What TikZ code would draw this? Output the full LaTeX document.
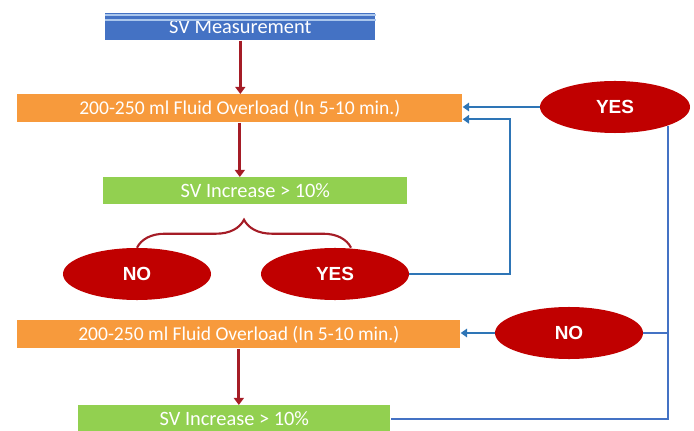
\documentclass[tikz,border=0pt]{standalone}
\usepackage{fontspec}
\setmainfont{Carlito}
\newfontfamily\ansfont{Liberation Sans}
\usetikzlibrary{arrows.meta,shapes.geometric,decorations.pathreplacing}

\definecolor{headblue}{RGB}{68,114,196}
\definecolor{stripeblue}{RGB}{170,198,236}
\definecolor{fluidorange}{RGB}{247,154,60}
\definecolor{checkgreen}{RGB}{146,208,80}
\definecolor{ansred}{RGB}{192,0,0}
\definecolor{darrowred}{RGB}{165,28,38}
\definecolor{barrowblue}{RGB}{46,117,182}
\definecolor{looplineblue}{RGB}{68,114,196}

\tikzset{
	box node/.style = {
		rectangle,
		inner sep = 0pt,
		anchor = north west,
		text = white,
		font = \fontsize{14.5}{17}\selectfont
	},
	head node/.style = {
		box node,
		fill = headblue,
		minimum width = 6.75cm,
		minimum height = 0.675cm
	},
	fluid node/.style = {
		box node,
		fill = fluidorange,
		minimum height = 0.7cm,
		font = \fontsize{13.9}{17}\selectfont
	},
	check node/.style = {
		box node,
		fill = checkgreen,
		minimum height = 0.675cm
	},
	ans node/.style = {
		ellipse,
		inner sep = 0pt,
		fill = ansred,
		text = white,
		minimum width = 3.7cm,
		minimum height = 1.3cm,
		font = \ansfont\bfseries\fontsize{13.5}{16}\selectfont
	},
	down arrow/.style = {
		draw = darrowred,
		line width = 2pt,
		-{Triangle[width=7pt,length=5pt]}
	},
	back arrow/.style = {
		draw = barrowblue,
		line width = 1.4pt,
		-{Triangle[width=6pt,length=4.5pt]}
	},
	loop line/.style = {
		draw = looplineblue,
		line width = 1.4pt
	}
}

\begin{document}
\begin{tikzpicture}[x=0.025cm, y=-0.025cm]
							\useasboundingbox (0,0) rectangle (694,431);
							% boxes
							\node at (105,13)  [head node] (head) {SV Measurement};
							\draw[stripeblue, line width=1pt] ([yshift=-1.5pt]head.north west) -- ([yshift=-1.5pt]head.north east);
							\draw[stripeblue, line width=1pt] ([yshift=-5pt]head.north west) -- ([yshift=-5pt]head.north east);
							\node at (17,94)   [fluid node, minimum width=11.125cm] (fluid1) {200-250 ml Fluid Overload (In 5-10 min.)};
							\node at (103,177) [check node, minimum width=7.6cm] (check1) {SV Increase > 10\%};
							\node at (17,320)  [fluid node, minimum width=11.075cm] (fluid2) {200-250 ml Fluid Overload (In 5-10 min.)};
							\node at (78,405)  [check node, minimum width=7.8cm] (check2) {SV Increase > 10\%};
							% answers
							\node at (137,274) [ans node] (no1) {NO};
							\node at (335,274) [ans node] (yes2) {YES};
							\node at (615,107) [ans node, minimum width=3.75cm] (yes1) {YES};
							\node at (569,333) [ans node] (no2) {NO};
							\coordinate (loop) at (510,274);
							% arrows
							\draw[down arrow] (head.south) -- (head.south |- fluid1.north);
							\draw[down arrow] (fluid1.south) -- (fluid1.south |- check1.north);
							\draw[down arrow] (fluid2.south) -- (fluid2.south |- check2.north);
							\draw[darrowred, line width=1.5pt, decorate, decoration={brace, amplitude=0.7cm}]
								(no1.north) -- ([xshift=0.4cm]yes2.north);
							\draw[back arrow] (yes1.west) -- (yes1.west -| fluid1.east);
							\draw[back arrow] (yes2.east) -- (loop) |- ([yshift=-0.275cm]fluid1.east);
							\draw[back arrow] (no2.west) -- (no2.west -| fluid2.east);
							\draw[loop line] (yes1.south east) |- (check2.east);
							\draw[loop line] (no2.east) -- (no2.east -| yes1.south east);
						\end{tikzpicture}
\end{document}
